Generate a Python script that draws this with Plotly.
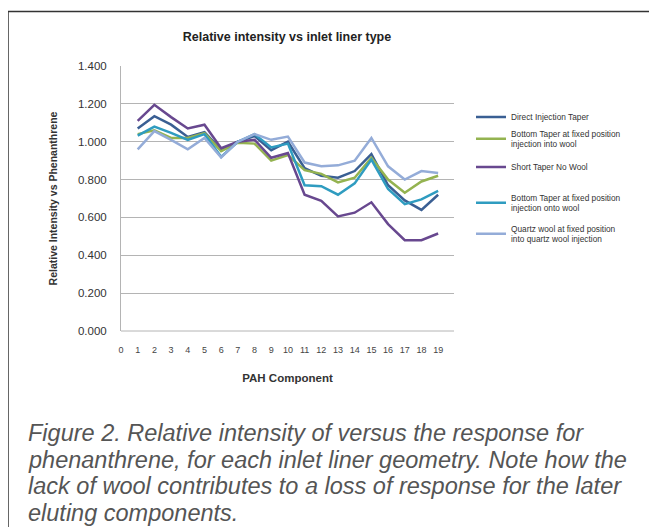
import plotly.graph_objects as go

components = list(range(1, 20))
tick_vals = list(range(0, 20))
tick_text = [str(v) for v in tick_vals]

direct_injection_taper = [1.07, 1.135, 1.09, 1.025, 1.05, 0.957, 1.0, 1.03, 0.955, 1.0, 0.86, 0.82, 0.81, 0.845, 0.935, 0.77, 0.69, 0.64, 0.72]
bottom_taper_into_wool = [1.04, 1.06, 1.02, 1.02, 1.045, 0.95, 0.995, 0.99, 0.90, 0.93, 0.85, 0.83, 0.785, 0.81, 0.915, 0.80, 0.73, 0.79, 0.82]
short_taper_no_wool = [1.11, 1.195, 1.13, 1.07, 1.09, 0.966, 1.0, 1.01, 0.915, 0.94, 0.72, 0.688, 0.605, 0.625, 0.68, 0.565, 0.48, 0.48, 0.515]
bottom_taper_onto_wool = [1.032, 1.08, 1.047, 1.01, 1.04, 0.92, 1.0, 1.04, 0.97, 0.99, 0.77, 0.765, 0.72, 0.78, 0.906, 0.75, 0.67, 0.695, 0.74]
quartz_wool = [0.96, 1.056, 1.01, 0.96, 1.02, 0.917, 1.0, 1.04, 1.01, 1.027, 0.89, 0.87, 0.875, 0.9, 1.02, 0.87, 0.80, 0.845, 0.835]

series_names = [
    "Direct Injection Taper",
    "Bottom Taper at fixed position<br>injection into wool",
    "Short Taper No Wool",
    "Bottom Taper at fixed position<br>injection onto wool",
    "Quartz wool at fixed position<br>into quartz wool injection",
]
series_values = [direct_injection_taper, bottom_taper_into_wool, short_taper_no_wool,
                 bottom_taper_onto_wool, quartz_wool]
series_colors = ["#3a5f93", "#94b350", "#68488f", "#2f9cc0", "#94acd8"]

# page body has an 8px margin; work in window pixels and shift
OFF = 8
W, H = 657 - OFF, 527 - OFF
L, R, T, B = 121 - OFF, 454 - OFF, 66 - OFF, 331 - OFF

fig = go.Figure()
legend_ids = ["legend", "legend2", "legend3", "legend4", "legend5"]
legend_y = [117, 139, 167, 203, 234]
for name, vals, col, lid in zip(series_names, series_values, series_colors, legend_ids):
    fig.add_trace(go.Scatter(x=components, y=vals, mode="lines", name=name,
                             line=dict(color=col, width=2.5), legend=lid))

layout_legends = {}
for lid, ly in zip(legend_ids, legend_y):
    layout_legends[lid] = dict(
        xref="container", yref="container", x=(471 - OFF) / W, y=1 - (ly - OFF) / H,
        xanchor="left", yanchor="middle", bgcolor="rgba(0,0,0,0)",
        font=dict(family="Liberation Sans, Arial", size=8.3, color="#333"),
        itemwidth=30, tracegroupgap=0,
    )

fig.update_layout(
    width=W, height=H, autosize=False,
    margin=dict(l=L, r=W - R, t=T, b=H - B),
    paper_bgcolor="white", plot_bgcolor="white",
    title=dict(text="<b>Relative intensity vs inlet liner type</b>",
               x=(287 - OFF) / W, xanchor="center", y=1 - (37 - OFF) / H, yanchor="middle",
               xref="container", yref="container",
               font=dict(family="Liberation Sans, Arial", size=12.5, color="#222")),
    showlegend=True,
    **layout_legends,
)

fig.update_xaxes(range=[0, 19.95], tickvals=tick_vals, ticktext=tick_text, showgrid=False,
                 zeroline=False, showline=False, ticks="", ticklabelstandoff=12,
                 tickfont=dict(family="Liberation Sans, Arial", size=9, color="#444"),
                 title=dict(text="<b>PAH Component</b>", standoff=19,
                            font=dict(family="Liberation Sans, Arial", size=11.5, color="#333")))
fig.update_yaxes(range=[0, 1.4], tickvals=[0, 0.2, 0.4, 0.6, 0.8, 1.0, 1.2, 1.4],
                 tickformat=".3f", showgrid=True, gridcolor="#b4b4b4", gridwidth=1,
                 zeroline=False, showline=True, linecolor="#b4b4b4", linewidth=1,
                 ticks="", ticklabelstandoff=11,
                 tickfont=dict(family="Liberation Sans, Arial", size=11.5, color="#333"),
                 title=dict(text="<b>Relative Intensity vs Phenanthrene</b>", standoff=18,
                            font=dict(family="Liberation Sans, Arial", size=10.5, color="#333")))

fig.add_shape(type="line", xref="paper", yref="paper", x0=0, x1=1, y0=0, y1=0,
              line=dict(color="#b4b4b4", width=1))

pw, ph = R - L, B - T
def px_x(x): return (x - OFF - L) / pw
def px_y(y): return (B - (y - OFF)) / ph
fig.add_shape(type="line", xref="paper", yref="paper", x0=px_x(8), x1=px_x(660), y0=px_y(11.5), y1=px_y(11.5),
              line=dict(color="#333", width=1.5))
fig.add_shape(type="line", xref="paper", yref="paper", x0=px_x(8), x1=px_x(8), y0=px_y(11), y1=px_y(530),
              line=dict(color="#333", width=1.5))

caption_lines = [
    "Figure 2. Relative intensity of versus the response for",
    "phenanthrene, for each inlet liner geometry. Note how the",
    "lack of wool contributes to a loss of response for the later",
    "eluting components.",
]
for i, line in enumerate(caption_lines):
    fig.add_annotation(text="<i>" + line + "</i>", xref="paper", yref="paper",
                       x=px_x(26), y=px_y(433 + 26.5 * i), xanchor="left", yanchor="middle",
                       showarrow=False,
                       font=dict(family="Liberation Sans, Arial", size=23.5, color="#555"))

fig.write_html("out.html")
